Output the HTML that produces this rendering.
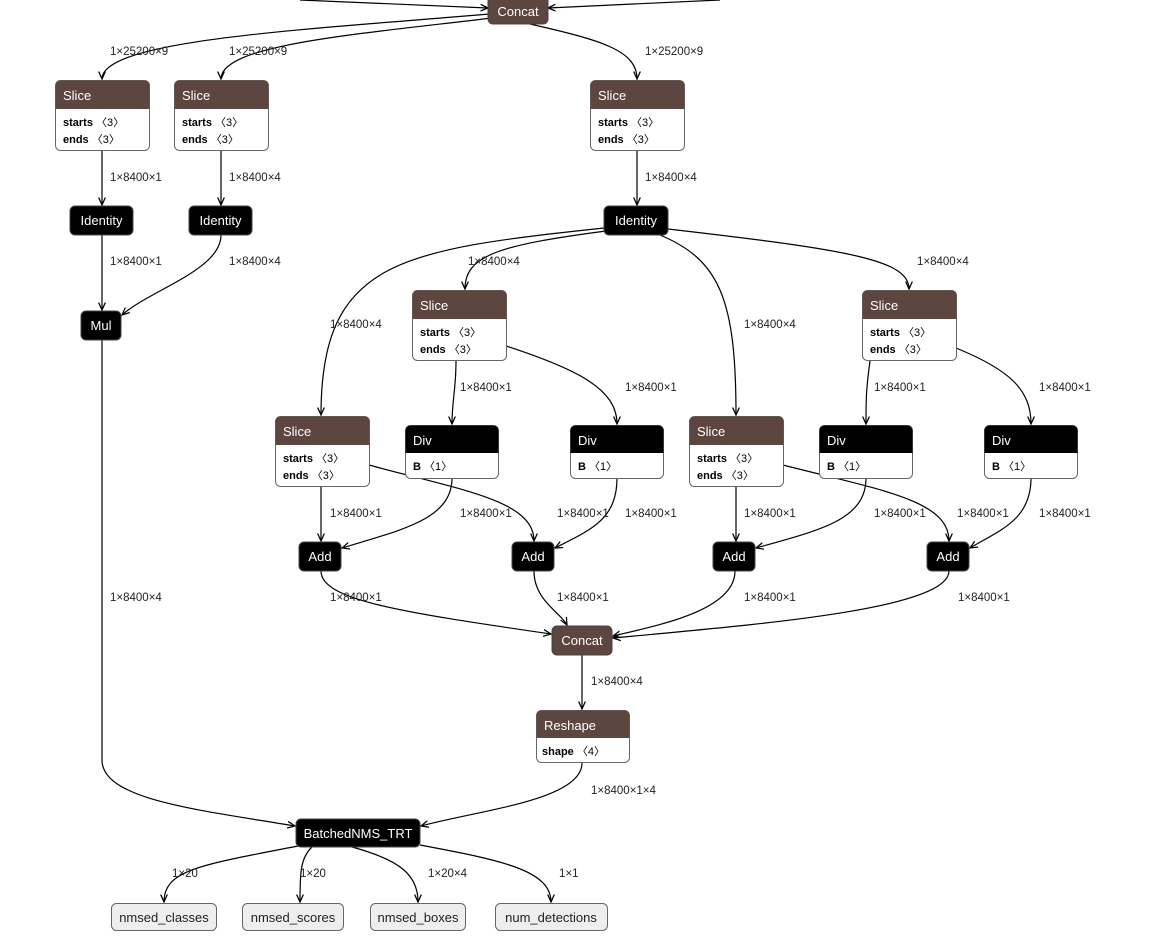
<!DOCTYPE html>
<html><head><meta charset="utf-8"><style>
html,body{margin:0;padding:0;background:#fff;}
svg{display:block;font-family:"Liberation Sans","DejaVu Sans",sans-serif;}
.t{fill:#fff;font-size:13px;}
.a{font-size:11px;fill:#000;}
.l{font-size:11.5px;fill:#222;}
.e{fill:none;stroke:#000;stroke-width:1.2;marker-end:url(#ar);}
</style></head><body>
<svg width="1156" height="938" viewBox="0 0 1156 938">
<defs><marker id="ar" viewBox="0 0 10 10" refX="9" refY="5" markerWidth="7" markerHeight="7" orient="auto"><path d="M0,1 L9,5 L0,9" fill="none" stroke="#000" stroke-width="1.5"/></marker></defs>
<g>
<path class="e" d="M300,0 L488,8"/>
<path class="e" d="M720,0 L548,8"/>
<path class="e" d="M490,14 C300,30 102,40 102,79"/>
<path class="e" d="M492,18 C350,35 221,45 221,79"/>
<path class="e" d="M530,24 C600,40 637,50 637,79"/>
<path class="e" d="M102,151 L102,205"/>
<path class="e" d="M221,151 L221,205"/>
<path class="e" d="M637,151 L637,205"/>
<path class="e" d="M102,235 L102,310"/>
<path class="e" d="M221,235 C221,270 150,290 122,315"/>
<path class="e" d="M604,228 C400,250 321,260 321,415"/>
<path class="e" d="M606,231 C500,245 465,255 465,289"/>
<path class="e" d="M660,235 C720,260 736,300 736,415"/>
<path class="e" d="M668,229 C850,250 909,260 909,289"/>
<path class="e" d="M102,340 L102,760 C102,800 200,810 295,826"/>
<path class="e" d="M456,361 C456,390 452,400 452,424"/>
<path class="e" d="M506,346 C580,370 617,390 617,424"/>
<path class="e" d="M870,361 C866,390 866,400 866,424"/>
<path class="e" d="M956,348 C1010,370 1031,390 1031,424"/>
<path class="e" d="M321,487 L321,541"/>
<path class="e" d="M369,465 C460,490 534,500 534,541"/>
<path class="e" d="M452,478 C452,520 400,530 342,548"/>
<path class="e" d="M617,478 C617,520 590,530 555,548"/>
<path class="e" d="M736,487 L736,541"/>
<path class="e" d="M783,465 C880,490 949,500 949,541"/>
<path class="e" d="M866,478 C866,520 820,530 756,548"/>
<path class="e" d="M1031,478 C1031,520 1000,530 970,548"/>
<path class="e" d="M321,571 C321,600 400,612 551,634"/>
<path class="e" d="M534,571 C534,600 560,612 567,625"/>
<path class="e" d="M735,571 C735,610 660,625 613,636"/>
<path class="e" d="M949,571 C949,610 750,625 613,638"/>
<path class="e" d="M582,655 L582,709"/>
<path class="e" d="M582,763 C582,800 480,810 421,826"/>
<path class="e" d="M298,846 C200,865 164,870 164,902"/>
<path class="e" d="M312,847 C300,858 300,875 300,902"/>
<path class="e" d="M352,847 C400,860 418,875 418,902"/>
<path class="e" d="M420,845 C500,860 551,870 551,902"/>
</g>
<g class="l">
<text x="110" y="55">1×25200×9</text><text x="229" y="55">1×25200×9</text><text x="645" y="55">1×25200×9</text>
<text x="110" y="181">1×8400×1</text><text x="229" y="181">1×8400×4</text><text x="645" y="181">1×8400×4</text>
<text x="110" y="265">1×8400×1</text><text x="229" y="265">1×8400×4</text><text x="468" y="265">1×8400×4</text><text x="917" y="265">1×8400×4</text>
<text x="330" y="328">1×8400×4</text><text x="744" y="328">1×8400×4</text>
<text x="460" y="391">1×8400×1</text><text x="625" y="391">1×8400×1</text><text x="874" y="391">1×8400×1</text><text x="1039" y="391">1×8400×1</text>
<text x="330" y="517">1×8400×1</text><text x="460" y="517">1×8400×1</text><text x="557" y="517">1×8400×1</text><text x="625" y="517">1×8400×1</text><text x="744" y="517">1×8400×1</text><text x="874" y="517">1×8400×1</text><text x="957" y="517">1×8400×1</text><text x="1039" y="517">1×8400×1</text>
<text x="110" y="601">1×8400×4</text><text x="330" y="601">1×8400×1</text><text x="557" y="601">1×8400×1</text><text x="744" y="601">1×8400×1</text><text x="958" y="601">1×8400×1</text>
<text x="591" y="685">1×8400×4</text><text x="591" y="794">1×8400×1×4</text>
<text x="172" y="877">1×20</text><text x="300" y="877">1×20</text><text x="428" y="877">1×20×4</text><text x="559" y="877">1×1</text>
</g>
<!-- top concat -->
<rect x="488" y="-4" width="60" height="28" rx="5" fill="#5d4540" stroke="#444"/>
<text class="t" x="518" y="16" text-anchor="middle">Concat</text>
<!-- slice nodes -->
<g id="slices">
<g transform="translate(55,80)"><rect x="0.5" y="0.5" width="94" height="70" rx="5" fill="#fff" stroke="#666"/><path d="M0.5,29 V5.5 a5,5 0 0 1 5,-5 H89.5 a5,5 0 0 1 5,5 V29 Z" fill="#5d4540"/><text class="t" x="8" y="20">Slice</text><text class="a" x="8" y="46"><tspan font-weight="bold">starts</tspan> 〈3〉</text><text class="a" x="8" y="63"><tspan font-weight="bold">ends</tspan> 〈3〉</text></g>
<g transform="translate(174,80)"><rect x="0.5" y="0.5" width="94" height="70" rx="5" fill="#fff" stroke="#666"/><path d="M0.5,29 V5.5 a5,5 0 0 1 5,-5 H89.5 a5,5 0 0 1 5,5 V29 Z" fill="#5d4540"/><text class="t" x="8" y="20">Slice</text><text class="a" x="8" y="46"><tspan font-weight="bold">starts</tspan> 〈3〉</text><text class="a" x="8" y="63"><tspan font-weight="bold">ends</tspan> 〈3〉</text></g>
<g transform="translate(590,80)"><rect x="0.5" y="0.5" width="94" height="70" rx="5" fill="#fff" stroke="#666"/><path d="M0.5,29 V5.5 a5,5 0 0 1 5,-5 H89.5 a5,5 0 0 1 5,5 V29 Z" fill="#5d4540"/><text class="t" x="8" y="20">Slice</text><text class="a" x="8" y="46"><tspan font-weight="bold">starts</tspan> 〈3〉</text><text class="a" x="8" y="63"><tspan font-weight="bold">ends</tspan> 〈3〉</text></g>
<g transform="translate(412,290)"><rect x="0.5" y="0.5" width="94" height="70" rx="5" fill="#fff" stroke="#666"/><path d="M0.5,29 V5.5 a5,5 0 0 1 5,-5 H89.5 a5,5 0 0 1 5,5 V29 Z" fill="#5d4540"/><text class="t" x="8" y="20">Slice</text><text class="a" x="8" y="46"><tspan font-weight="bold">starts</tspan> 〈3〉</text><text class="a" x="8" y="63"><tspan font-weight="bold">ends</tspan> 〈3〉</text></g>
<g transform="translate(862,290)"><rect x="0.5" y="0.5" width="94" height="70" rx="5" fill="#fff" stroke="#666"/><path d="M0.5,29 V5.5 a5,5 0 0 1 5,-5 H89.5 a5,5 0 0 1 5,5 V29 Z" fill="#5d4540"/><text class="t" x="8" y="20">Slice</text><text class="a" x="8" y="46"><tspan font-weight="bold">starts</tspan> 〈3〉</text><text class="a" x="8" y="63"><tspan font-weight="bold">ends</tspan> 〈3〉</text></g>
<g transform="translate(275,416)"><rect x="0.5" y="0.5" width="94" height="70" rx="5" fill="#fff" stroke="#666"/><path d="M0.5,29 V5.5 a5,5 0 0 1 5,-5 H89.5 a5,5 0 0 1 5,5 V29 Z" fill="#5d4540"/><text class="t" x="8" y="20">Slice</text><text class="a" x="8" y="46"><tspan font-weight="bold">starts</tspan> 〈3〉</text><text class="a" x="8" y="63"><tspan font-weight="bold">ends</tspan> 〈3〉</text></g>
<g transform="translate(689,416)"><rect x="0.5" y="0.5" width="94" height="70" rx="5" fill="#fff" stroke="#666"/><path d="M0.5,29 V5.5 a5,5 0 0 1 5,-5 H89.5 a5,5 0 0 1 5,5 V29 Z" fill="#5d4540"/><text class="t" x="8" y="20">Slice</text><text class="a" x="8" y="46"><tspan font-weight="bold">starts</tspan> 〈3〉</text><text class="a" x="8" y="63"><tspan font-weight="bold">ends</tspan> 〈3〉</text></g>
</g>
<!-- Div nodes -->
<g transform="translate(405,425)"><rect x="0.5" y="0.5" width="93" height="53" rx="5" fill="#fff" stroke="#666"/><path d="M0.5,28 V5.5 a5,5 0 0 1 5,-5 H88.5 a5,5 0 0 1 5,5 V28 Z" fill="#000"/><text class="t" x="8" y="20">Div</text><text class="a" x="8" y="45"><tspan font-weight="bold">B</tspan> 〈1〉</text></g>
<g transform="translate(570,425)"><rect x="0.5" y="0.5" width="93" height="53" rx="5" fill="#fff" stroke="#666"/><path d="M0.5,28 V5.5 a5,5 0 0 1 5,-5 H88.5 a5,5 0 0 1 5,5 V28 Z" fill="#000"/><text class="t" x="8" y="20">Div</text><text class="a" x="8" y="45"><tspan font-weight="bold">B</tspan> 〈1〉</text></g>
<g transform="translate(819,425)"><rect x="0.5" y="0.5" width="93" height="53" rx="5" fill="#fff" stroke="#666"/><path d="M0.5,28 V5.5 a5,5 0 0 1 5,-5 H88.5 a5,5 0 0 1 5,5 V28 Z" fill="#000"/><text class="t" x="8" y="20">Div</text><text class="a" x="8" y="45"><tspan font-weight="bold">B</tspan> 〈1〉</text></g>
<g transform="translate(984,425)"><rect x="0.5" y="0.5" width="93" height="53" rx="5" fill="#fff" stroke="#666"/><path d="M0.5,28 V5.5 a5,5 0 0 1 5,-5 H88.5 a5,5 0 0 1 5,5 V28 Z" fill="#000"/><text class="t" x="8" y="20">Div</text><text class="a" x="8" y="45"><tspan font-weight="bold">B</tspan> 〈1〉</text></g>
<!-- black simple nodes -->
<g>
<rect x="70" y="206" width="63" height="29" rx="5" fill="#000" stroke="#444"/><text class="t" x="101.5" y="225" text-anchor="middle">Identity</text>
<rect x="189" y="206" width="63" height="29" rx="5" fill="#000" stroke="#444"/><text class="t" x="220.5" y="225" text-anchor="middle">Identity</text>
<rect x="604" y="206" width="64" height="29" rx="5" fill="#000" stroke="#444"/><text class="t" x="636" y="225" text-anchor="middle">Identity</text>
<rect x="81" y="311" width="40" height="29" rx="5" fill="#000" stroke="#444"/><text class="t" x="101" y="330" text-anchor="middle">Mul</text>
<rect x="299" y="542" width="42" height="29" rx="5" fill="#000" stroke="#444"/><text class="t" x="320" y="561" text-anchor="middle">Add</text>
<rect x="512" y="542" width="42" height="29" rx="5" fill="#000" stroke="#444"/><text class="t" x="533" y="561" text-anchor="middle">Add</text>
<rect x="713" y="542" width="42" height="29" rx="5" fill="#000" stroke="#444"/><text class="t" x="734" y="561" text-anchor="middle">Add</text>
<rect x="927" y="542" width="42" height="29" rx="5" fill="#000" stroke="#444"/><text class="t" x="948" y="561" text-anchor="middle">Add</text>
<rect x="296" y="819" width="124" height="28" rx="5" fill="#000" stroke="#444"/><text class="t" x="358" y="838" text-anchor="middle">BatchedNMS_TRT</text>
</g>
<rect x="552" y="626" width="60" height="29" rx="5" fill="#5d4540" stroke="#444"/><text class="t" x="582" y="645" text-anchor="middle">Concat</text>
<g transform="translate(536,710)"><rect x="0.5" y="0.5" width="93" height="52" rx="5" fill="#fff" stroke="#666"/><path d="M0.5,28 V5.5 a5,5 0 0 1 5,-5 H88.5 a5,5 0 0 1 5,5 V28 Z" fill="#5d4540"/><text class="t" x="8" y="20">Reshape</text><text class="a" x="6" y="45"><tspan font-weight="bold">shape</tspan> 〈4〉</text></g>
<!-- outputs -->
<g font-size="13" fill="#222">
<rect x="111.5" y="903.5" width="105" height="27" rx="5" fill="#eee" stroke="#666"/><text x="164" y="922" text-anchor="middle">nmsed_classes</text>
<rect x="242.5" y="903.5" width="101" height="27" rx="5" fill="#eee" stroke="#666"/><text x="293" y="922" text-anchor="middle">nmsed_scores</text>
<rect x="370.5" y="903.5" width="95" height="27" rx="5" fill="#eee" stroke="#666"/><text x="418" y="922" text-anchor="middle">nmsed_boxes</text>
<rect x="495.5" y="903.5" width="112" height="27" rx="5" fill="#eee" stroke="#666"/><text x="551" y="922" text-anchor="middle">num_detections</text>
</g>
</svg>
</body></html>
